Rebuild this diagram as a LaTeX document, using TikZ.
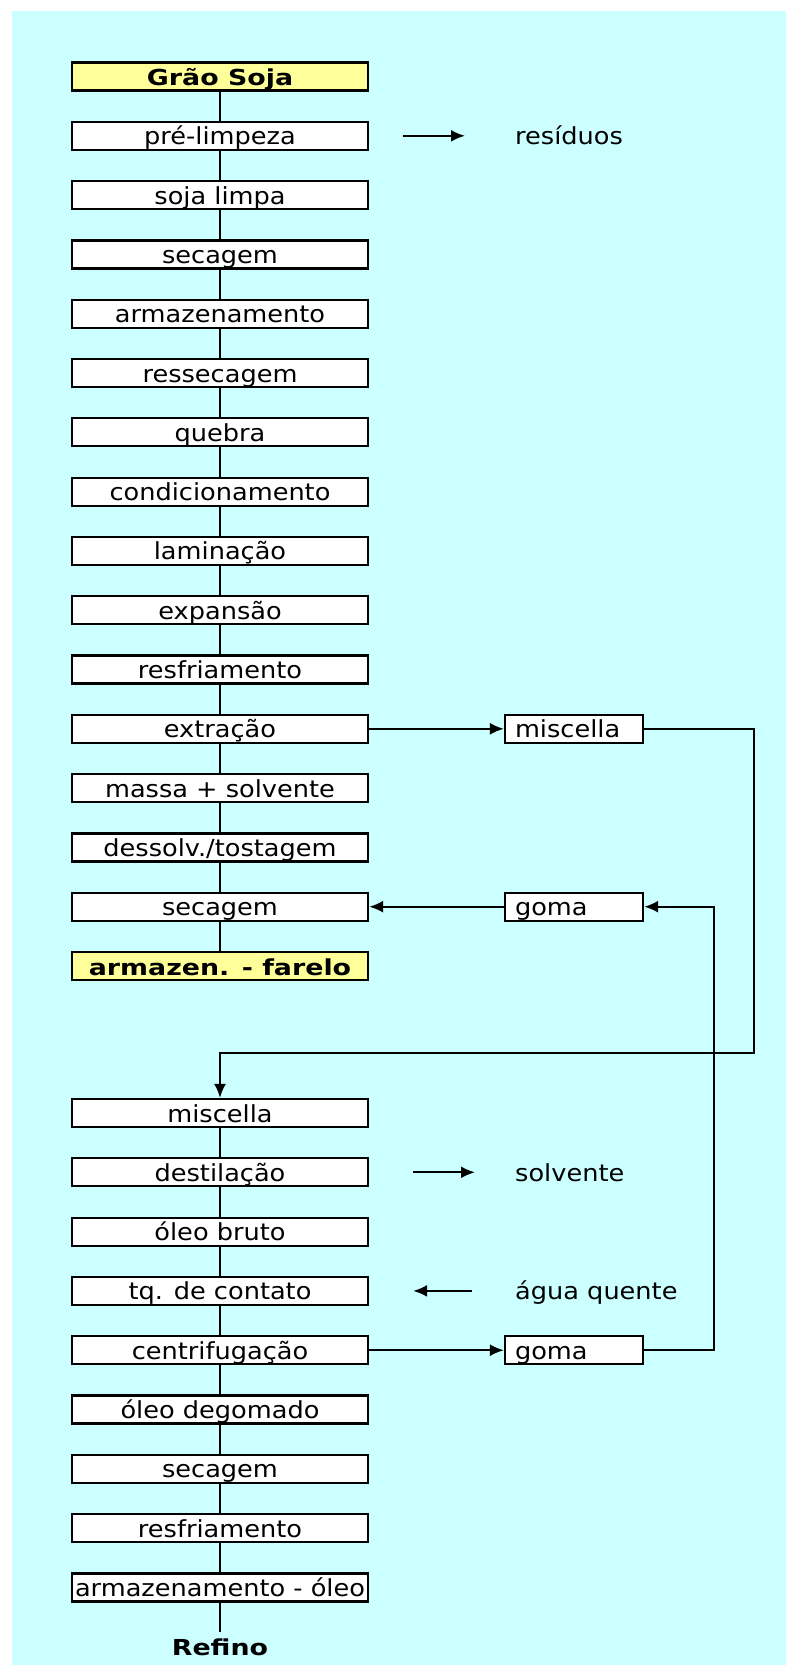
\documentclass[tikz,border=0pt]{standalone}
\usepackage{fontspec}
\newfontfamily\boxfont[FakeStretch=1.09]{DejaVu Sans}
\newfontfamily\boldfont[FakeStretch=1.22]{DejaVu Sans}
\usetikzlibrary{arrows.meta}
\definecolor{bgcyan}{RGB}{204,255,255}
\definecolor{hiyellow}{RGB}{255,255,153}
\tikzset{
  regfont/.style={font=\boxfont\fontsize{23.5}{26}\selectfont},
  bfont/.style={font=\boldfont\bfseries\fontsize{22}{26}\selectfont},
  stepbox/.style={draw, line width=2.2pt, fill=white, minimum width=296pt,
    minimum height=28pt, inner sep=0pt, text height=20pt, text depth=2pt, regfont},
  keybox/.style={stepbox, fill=hiyellow, bfont},
  sidebox/.style={draw, line width=2.2pt, fill=white, minimum height=28pt,
    text width=118pt, inner xsep=10pt, inner ysep=0pt, align=left,
    text height=20pt, text depth=2pt, regfont},
  sidelabel/.style={anchor=west, inner sep=0pt, text height=20pt, text depth=2pt, regfont},
  link/.style={line width=2.2pt},
  flow/.style={line width=2.2pt, -{Latex[length=14pt,width=12pt]}},
}
\begin{document}
\begin{tikzpicture}[x=1pt,y=-1pt]
\useasboundingbox (0,0) rectangle (786,1665);
\fill[white] (0,0) rectangle (786,1665);
\fill[bgcyan] (12,11) rectangle (786,1665);

% main column
\node[keybox]  (b1)  at (220,76.5)  {Grão Soja};
\node[stepbox] (b2)  at (220,135.8) {pré-limpeza};
\node[stepbox] (b3)  at (220,195.1) {soja limpa};
\node[stepbox] (b4)  at (220,254.4) {secagem};
\node[stepbox] (b5)  at (220,313.7) {armazenamento};
\node[stepbox] (b6)  at (220,373.0) {ressecagem};
\node[stepbox] (b7)  at (220,432.3) {quebra};
\node[stepbox] (b8)  at (220,491.6) {condicionamento};
\node[stepbox] (b9)  at (220,550.9) {laminação};
\node[stepbox] (b10) at (220,610.2) {expansão};
\node[stepbox] (b11) at (220,669.5) {resfriamento};
\node[stepbox] (b12) at (220,728.8) {extração};
\node[stepbox] (b13) at (220,788.1) {massa + solvente};
\node[stepbox] (b14) at (220,847.4) {dessolv./tostagem};
\node[stepbox] (b15) at (220,906.7) {secagem};
\node[keybox]  (b16) at (220,966.0) {armazen. - farelo};
\node[stepbox] (b17) at (220,1113.0) {miscella};
\node[stepbox] (b18) at (220,1172.3) {destilação};
\node[stepbox] (b19) at (220,1231.6) {óleo bruto};
\node[stepbox] (b20) at (220,1290.9) {tq. de contato};
\node[stepbox] (b21) at (220,1350.2) {centrifugação};
\node[stepbox] (b22) at (220,1409.5) {óleo degomado};
\node[stepbox] (b23) at (220,1468.8) {secagem};
\node[stepbox] (b24) at (220,1528.1) {resfriamento};
\node[stepbox] (b25) at (220,1587.4) {armazenamento - óleo};
\node[anchor=base, inner sep=0pt, bfont] (refino) at (220,1655) {Refino};

% side boxes and labels
\node[sidebox] (mis)   at (574,728.8)  {miscella};
\node[sidebox] (gomaA) at (574,906.7)  {goma};
\node[sidebox] (gomaB) at (574,1350.2) {goma};
\node[sidelabel] (res)  at (515,135.8)  {resíduos};
\node[sidelabel] (solv) at (515,1172.3) {solvente};
\node[sidelabel] (agua) at (515,1290.9) {água quente};

% vertical links
\foreach \a/\b in {1/2,2/3,3/4,4/5,5/6,6/7,7/8,8/9,9/10,10/11,11/12,12/13,13/14,14/15,15/16,
                   17/18,18/19,19/20,20/21,21/22,22/23,23/24,24/25}
  \draw[link] (b\a.south) -- (b\b.north);
\draw[link] (b25.south) -- ([yshift=6pt]refino.north);

% side arrows
\draw[flow] ([xshift=34pt]b2.east) -- ([xshift=-50pt]res.west);
\draw[flow] ([xshift=44pt]b18.east) -- ([xshift=-40pt]solv.west);
\draw[flow] ([xshift=-43pt]agua.west) -- ([xshift=44pt]b20.east);
\draw[flow] (b12.east) -- (mis.west);
\draw[flow] (gomaA.west) -- (b15.east);
\draw[flow] (b21.east) -- (gomaB.west);

% loops
\coordinate (misRail) at (754,1053);
\coordinate (gomaRail) at (714,1100);
\draw[flow] (mis.east) -| (misRail) -| (b17.north);
\draw[flow] (gomaB.east) -| (gomaRail) |- (gomaA.east);
\end{tikzpicture}
\end{document}
